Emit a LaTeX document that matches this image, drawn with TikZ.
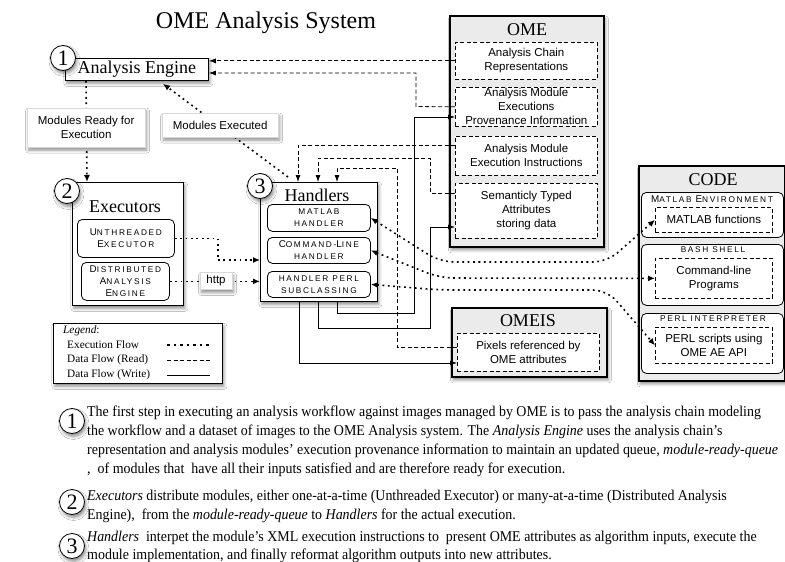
\documentclass[tikz,border=0pt]{standalone}
\usepackage{fontspec}
\setmainfont{Liberation Serif}
\setsansfont{Liberation Sans}
\newfontfamily\cpfont{Liberation Sans}[LetterSpace=20]
\usetikzlibrary{arrows.meta,shadows.blur,calc}
\newcommand\Bg[1]{{\fontsize{9.8}{9}\selectfont #1}}
\newcommand\nrw[1]{\scalebox{0.93}[1]{#1}}
\tikzset{
 shd/.style={blur shadow={shadow xshift=1.5pt, shadow yshift=-3pt, shadow blur radius=3pt, shadow opacity=45}},
 box/.style={draw, line width=0.8pt, fill=white, inner sep=0pt, anchor=north west},
 grp/.style={draw, line width=1.8pt, fill=gray!16, inner sep=0pt, anchor=north west, shd},
 dbox/.style={draw, line width=0.7pt, dash pattern=on 4pt off 2.5pt, fill=white, inner sep=0pt, anchor=north west, font=\sffamily\fontsize{11.5}{14}\selectfont, align=center},
 rbox/.style={draw, line width=0.8pt, rounded corners=5pt, fill=white, inner sep=0pt, anchor=north west, align=center, font=\cpfont\fontsize{8.3}{12}\selectfont},
 lbl/.style={fill=white, draw=gray!30, line width=0.3pt, inner sep=0pt, anchor=north west, shd, font=\sffamily\fontsize{11.5}{14}\selectfont, align=center},
 num/.style={circle, draw, line width=0.8pt, fill=white, minimum size=25pt, inner sep=0pt, font=\fontsize{22}{22}\selectfont, shd},
 ttl/.style={inner sep=0pt, font=\fontsize{18}{18}\selectfont},
 cplbl/.style={inner sep=0pt, font=\cpfont\fontsize{8.3}{9}\selectfont},
 exe/.style={line width=1.6pt, dash pattern=on 1.8pt off 3.6pt, -{Latex[length=7pt,width=6pt]}},
 exe2/.style={line width=1.6pt, dash pattern=on 1.8pt off 3.6pt, {Latex[length=7pt,width=6pt]}-{Latex[length=7pt,width=6pt]}, rounded corners=14pt},
 rd/.style={line width=0.8pt, dash pattern=on 4pt off 2.5pt, -{Latex[length=7pt,width=5pt]}},
 wr/.style={line width=0.8pt, -{Latex[length=7pt,width=5pt]}},
 para/.style={anchor=base west, inner sep=0pt, font=\fontsize{15}{15}\selectfont},
 legt/.style={anchor=west, inner sep=0pt, font=\fontsize{11.3}{12}\selectfont},
}
\begin{document}
\begin{tikzpicture}[x=1pt,y=-1pt]
\fill[white] (0,0) rectangle (785,562);
\useasboundingbox (0,0) rectangle (785,562);

\node[inner sep=0pt, font=\fontsize{24}{24}\selectfont] (title) at (266,23) {OME Analysis System};

% Analysis engine
\node[box, shd, minimum width=143, minimum height=22, font=\fontsize{18}{18}\selectfont] (ae) at (65,58) {Analysis Engine};
\node[num] (c1) at (63,58) {1};

% Executors
\node[box, shd, minimum width=111, minimum height=123] (exec) at (72,182) {};
\node[ttl] (exect) at (125,207) {Executors};
\node[num] (c2) at (67,191) {2};
\node[rbox, minimum width=97, minimum height=38] (unth) at (77,219) {\Bg{U}NTHREADED\\\Bg{E}XECUTOR};
\node[rbox, minimum width=88, minimum height=38] (dist) at (81,262) {\Bg{D}ISTRIBUTED\\\Bg{A}NALYSIS\\\Bg{E}NGINE};

% Handlers
\node[box, shd, minimum width=117, minimum height=119] (hand) at (260,182) {};
\node[ttl] (handt) at (317,195) {Handlers};
\node[num] (c3) at (260,186) {3};
\node[rbox, minimum width=103, minimum height=27] (hm) at (267,204) {MATLAB\\HANDLER};
\node[rbox, minimum width=103, minimum height=26] (hc) at (267,237) {\Bg{C}OMMAND-\Bg{L}INE\\HANDLER};
\node[rbox, minimum width=103, minimum height=26] (hp) at (267,271) {HANDLER PERL\\SUBCLASSING};

% OME
\node[grp, minimum width=154, minimum height=231] (ome) at (449,15) {};
\node[ttl] (omet) at (527,30) {OME};
\node[dbox, minimum width=142, minimum height=37] (chain) at (455,42) {Analysis Chain\\Representations};
\node[dbox, minimum width=142, minimum height=39] (prov) at (455,87) {Analysis Module\\Executions\\Provenance Information};
\node[dbox, minimum width=142, minimum height=39] (instr) at (455,136) {Analysis Module\\Execution Instructions};
\node[dbox, minimum width=142, minimum height=55] (sem) at (455,183) {Semanticly Typed\\Attributes\\storing data};

% OMEIS
\node[grp, minimum width=155, minimum height=69] (omeis) at (451,307) {};
\node[ttl] (omeist) at (528,321) {OMEIS};
\node[dbox, minimum width=142, minimum height=38] (pix) at (457,333) {Pixels referenced by\\OME attributes};

% CODE
\node[grp, minimum width=146, minimum height=215] (code) at (638,165) {};
\node[ttl] (codet) at (713,180) {CODE};
\node[box, rounded corners=5pt, minimum width=142, minimum height=45] (cm) at (641,192) {};
\node[cplbl] (cml) at (712,199) {\Bg{M}ATLAB \Bg{E}NVIRONMENT};
\node[dbox, minimum width=117, minimum height=25] (cmf) at (655,207) {MATLAB functions};
\node[box, rounded corners=5pt, minimum width=142, minimum height=61] (cb) at (641,244) {};
\node[cplbl] (cbl) at (713,250) {BASH SHELL};
\node[dbox, minimum width=117, minimum height=40] (cbf) at (655,258) {Command-line\\Programs};
\node[box, rounded corners=5pt, minimum width=142, minimum height=60] (cp) at (641,313) {};
\node[cplbl] (cpl) at (713,319) {PERL INTERPRETER};
\node[dbox, minimum width=117, minimum height=36] (cpf) at (655,327) {PERL scripts using\\OME AE API};

% Legend
\node[box, shd, minimum width=169, minimum height=60] (leg) at (53,323) {};
\node[legt] (leg0) at (63,331) {\textit{Legend}:};
\node[legt] (leg1) at (67,345) {Execution Flow};
\node[legt] (leg2) at (67,360) {Data Flow (Read)};
\node[legt] (leg3) at (67,375) {Data Flow (Write)};
\draw[line width=1.1pt, dash pattern=on 2.5pt off 4pt] ($(leg.north west)+(114,22)$) -- ($(leg.north west)+(157,22)$);
\draw[line width=0.7pt, dash pattern=on 4pt off 2.5pt] ($(leg.north west)+(114,37)$) -- ($(leg.north west)+(157,37)$);
\draw[line width=0.7pt] ($(leg.north west)+(114,52)$) -- ($(leg.north west)+(157,52)$);

% execution flow
\draw[exe] ($(ae.south west)+(21,0)$) -- ($(exec.north west)+(15,0)$);
\draw[exe] ($(hand.north west)+(28,-5)$) -- ($(ae.south west)+(98,3)$);
\draw[exe] (unth.east) -- ++(43,0) |- (hand.west |- 0,260);
\draw[exe] (dist.east) -- (hand.west |- dist.east);
\draw[exe2] (hm.east) -- (440,262) -- (607,262) -- (cmf.west);
\draw[exe2] (hc.east) -- (440,278) -- (cbf.west);
\draw[exe2] (hp.east) -- (440,290) -- (607,290) -- (cpf.west);

% data read
\draw[rd] (chain.west) -- (ae.east |- chain.west);
\draw[rd] (prov.west) -- (416,106.5) -- (416,73) -- (ae.east |- 0,73);
\draw[rd] ($(instr.north west)+(0,9)$) -| ($(hand.north west)+(38,0)$);
\draw[rd] ($(sem.north west)+(0,10)$) -- (430,193) -- (430,158) -| ($(hand.north west)+(58,0)$);
\draw[rd] ($(pix.north west)+(0,14)$) -- (397,347) -- (397,168) -| ($(hand.north west)+(77,0)$);

% data write
\draw[wr] ($(hand.south west)+(77,0)$) -- (337,313) -- (414,313) |- ($(prov.north west)+(0,30)$);
\draw[wr] ($(hand.south west)+(58,0)$) -- (318,328) -- (430,328) |- ($(sem.north west)+(0,44)$);
\draw[wr] ($(hand.south west)+(39,0)$) |- ($(pix.north west)+(0,30)$);

% labels on connectors
\node[lbl, minimum width=118, minimum height=39] (mready) at (27,108) {Modules Ready for\\Execution};
\node[lbl, minimum width=116, minimum height=24] (mexec) at (162,113) {Modules Executed};
\node[lbl, anchor=center, minimum width=32, minimum height=17] (http) at (216,281) {http};

% description
\node[num] (d1) at (72,421) {1};
\node[para] (p1) at (87,416) {\nrw{The first step in executing an analysis workflow against images managed by OME is to pass the analysis chain modeling}};
\node[para] (p2) at (87,435) {\nrw{the workflow and a dataset of images to the OME Analysis system. The \textit{Analysis Engine} uses the analysis chain's}};
\node[para] (p3) at (87,454) {\nrw{representation and analysis modules' execution provenance information to maintain an updated queue, \textit{module-ready-queue}}};
\node[para] (p4) at (87,473) {\nrw{,\ \ of modules that\ \ have all their inputs satisfied and are therefore ready for execution.}};
\node[num] (d2) at (72,502) {2};
\node[para] (q1) at (87,500) {\nrw{\textit{Executors} distribute modules, either one-at-a-time (Unthreaded Executor) or many-at-a-time (Distributed Analysis}};
\node[para] (q2) at (87,519) {\nrw{Engine),\ \ from the \textit{module-ready-queue} to \textit{Handlers} for the actual execution.}};
\node[num] (d3) at (72,546) {3};
\node[para] (r1) at (87,541) {\nrw{\textit{Handlers}\ \ interpet the module’s XML execution instructions to\ \ present OME attributes as algorithm inputs, execute the}};
\node[para] (r2) at (87,559.5) {\nrw{module implementation, and finally reformat algorithm outputs into new attributes.}};
\end{tikzpicture}
\end{document}
